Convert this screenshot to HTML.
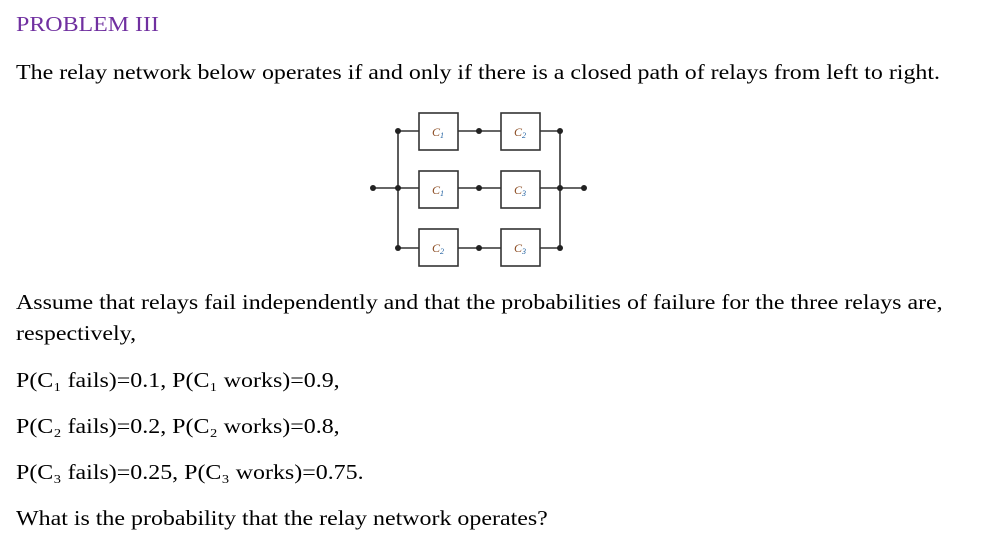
<!DOCTYPE html>
<html><head><style>
body{margin:0;width:993px;height:556px;background:#fff;font-family:"Liberation Serif",serif;color:#000;position:relative;overflow:hidden}
.t{position:absolute;left:16px;font-size:21px;white-space:nowrap;line-height:1;transform:scaleX(1.14);transform-origin:0 0}
</style></head><body>
<div class="t" style="top:14px;color:#7030a0">PROBLEM III</div>
<div class="t" style="top:62px">The relay network below operates if and only if there is a closed path of relays from left to right.</div>
<svg style="position:absolute;left:0;top:0" width="993" height="556">
<g stroke="#333" stroke-width="1.6" fill="none">
<line x1="373" y1="188" x2="419" y2="188"/>
<line x1="398" y1="131" x2="398" y2="248"/>
<line x1="560" y1="131" x2="560" y2="248"/>
<line x1="540" y1="188" x2="584" y2="188"/>
<line x1="398" y1="131" x2="419" y2="131"/><line x1="458" y1="131" x2="501" y2="131"/><line x1="540" y1="131" x2="560" y2="131"/>
<line x1="458" y1="188" x2="501" y2="188"/>
<line x1="398" y1="248" x2="419" y2="248"/><line x1="458" y1="248" x2="501" y2="248"/><line x1="540" y1="248" x2="560" y2="248"/>
<rect x="419" y="113" width="39" height="37"/><rect x="501" y="113" width="39" height="37"/>
<rect x="419" y="171" width="39" height="37"/><rect x="501" y="171" width="39" height="37"/>
<rect x="419" y="229" width="39" height="37"/><rect x="501" y="229" width="39" height="37"/>
</g>
<g fill="#222">
<circle cx="373" cy="188" r="3"/><circle cx="398" cy="188" r="3"/><circle cx="398" cy="131" r="3"/><circle cx="398" cy="248" r="3"/>
<circle cx="479" cy="131" r="3"/><circle cx="479" cy="188" r="3"/><circle cx="479" cy="248" r="3"/>
<circle cx="560" cy="131" r="3"/><circle cx="560" cy="188" r="3"/><circle cx="560" cy="248" r="3"/><circle cx="584" cy="188" r="3"/>
</g>
<g font-family="Liberation Serif,serif" font-style="italic" font-size="12" fill="#8a4a20" text-anchor="middle">
<text x="438" y="136">C<tspan font-size="8" dy="2" fill="#2060a0">1</tspan></text>
<text x="520" y="136">C<tspan font-size="8" dy="2" fill="#2060a0">2</tspan></text>
<text x="438" y="194">C<tspan font-size="8" dy="2" fill="#2060a0">1</tspan></text>
<text x="520" y="194">C<tspan font-size="8" dy="2" fill="#2060a0">3</tspan></text>
<text x="438" y="252">C<tspan font-size="8" dy="2" fill="#2060a0">2</tspan></text>
<text x="520" y="252">C<tspan font-size="8" dy="2" fill="#2060a0">3</tspan></text>
</g>
</svg>
<div class="t" style="top:292px">Assume that relays fail independently and that the probabilities of failure for the three relays are,</div>
<div class="t" style="top:323px">respectively,</div>
<div class="t" style="top:370px">P(C₁ fails)=0.1, P(C₁ works)=0.9,</div>
<div class="t" style="top:416px">P(C₂ fails)=0.2, P(C₂ works)=0.8,</div>
<div class="t" style="top:462px">P(C₃ fails)=0.25, P(C₃ works)=0.75.</div>
<div class="t" style="top:508px">What is the probability that the relay network operates?</div>
</body></html>
